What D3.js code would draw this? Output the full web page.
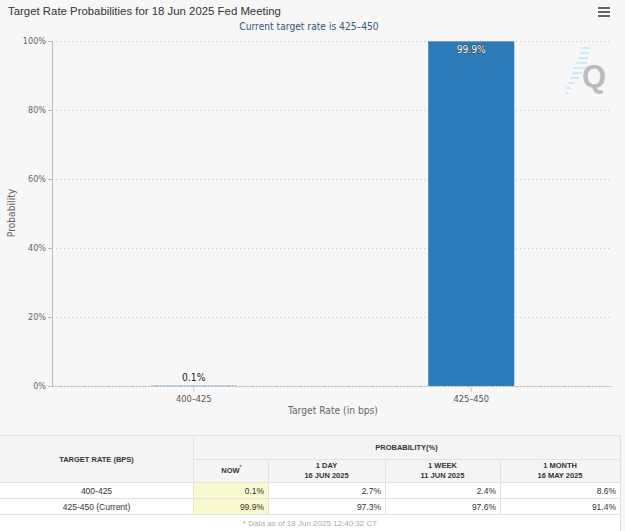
<!DOCTYPE html>
<html>
<head>
<meta charset="utf-8">
<script src="https://cdn.jsdelivr.net/npm/d3@7"></script>
<style>
  html, body { margin: 0; padding: 0; background: #f7f7f7; }
  svg { display: block; }
</style>
</head>
<body>
<svg width="625" height="531"></svg>
<script>
// chart data
const rates = ['400–425', '425–450'];
const probs = [0.1, 99.9];
const yTicks = [0, 20, 40, 60, 80, 100];

// table data
const tableRates = ['400-425', '425-450 (Current)'];
const colHeads = [['NOW'], ['1 DAY', '16 JUN 2025'], ['1 WEEK', '11 JUN 2025'], ['1 MONTH', '16 MAY 2025']];
const nowVals = [0.1, 99.9];
const dayVals = [2.7, 97.3];
const weekVals = [2.4, 97.6];
const monthVals = [8.6, 91.4];

const svg = d3.select('svg');
const width = +svg.attr('width');

const chartFont = '"Liberation Sans Narrow", "DejaVu Sans Condensed", Arial, sans-serif';
const tableFont = '"Liberation Sans", Arial, sans-serif';

svg.append('rect').attr('width', width).attr('height', 531).attr('fill', '#f7f7f7');

// title + subtitle
svg.append('text')
    .attr('x', 8).attr('y', 15)
    .attr('font-family', tableFont).attr('font-size', 11.4)
    .attr('fill', '#333')
    .text('Target Rate Probabilities for 18 Jun 2025 Fed Meeting');

svg.append('text')
    .attr('x', 309).attr('y', 30)
    .attr('text-anchor', 'middle')
    .attr('font-family', chartFont).attr('font-size', 10.2)
    .attr('fill', '#355877')
    .text('Current target rate is 425–450');

// menu icon
[8, 12, 16].forEach(y => {
    svg.append('line')
        .attr('x1', 598).attr('x2', 610).attr('y1', y).attr('y2', y)
        .attr('stroke', '#666').attr('stroke-width', 2);
});

const margin = { top: 41, left: 52, right: 13, bottom: 145 };
const innerWidth = width - margin.left - margin.right;
const innerHeight = 386 - margin.top;

const g = svg.append('g')
    .attr('transform', `translate(${margin.left}, ${margin.top})`);

const xScale = d3.scaleBand()
    .domain(rates)
    .range([3, innerWidth - 2])
    .paddingInner(0.69)
    .paddingOuter(0.345);

const yScale = d3.scaleLinear()
    .domain([0, 100])
    .range([innerHeight, 0]);

// grid lines
g.append('g')
    .selectAll('line')
    .data(yTicks)
    .enter()
        .append('line')
        .attr('x1', 0).attr('x2', innerWidth)
        .attr('y1', d => yScale(d) + 0.5).attr('y2', d => yScale(d) + 0.5)
        .attr('stroke', '#c8c8c8')
        .attr('stroke-dasharray', '1,3');

// y axis
const yAxis = d3.axisLeft(yScale)
    .tickValues(yTicks)
    .tickSize(4)
    .tickPadding(2)
    .tickFormat(d => d + '%');
const yAxisG = g.append('g').call(yAxis);
yAxisG.select('.domain').attr('stroke', '#bbb').attr('d', `M0.5,0V${innerHeight}`);
yAxisG.selectAll('.tick line').attr('stroke', '#bbb');
yAxisG.selectAll('.tick text')
    .attr('font-family', chartFont).attr('font-size', 9)
    .attr('fill', '#666');

// x axis
const xAxis = d3.axisBottom(xScale).tickSize(6).tickPadding(3);
const xAxisG = g.append('g')
    .attr('transform', `translate(0, ${innerHeight})`)
    .call(xAxis);
xAxisG.select('.domain').remove();
xAxisG.selectAll('.tick line').attr('stroke', '#ccc');
xAxisG.selectAll('.tick text')
    .attr('font-family', chartFont).attr('font-size', 9.2)
    .attr('fill', '#555');

// axis titles
g.append('text')
    .attr('x', 281).attr('y', innerHeight + 28)
    .attr('text-anchor', 'middle')
    .attr('font-family', chartFont).attr('font-size', 10.2)
    .attr('fill', '#666')
    .text('Target Rate (in bps)');

svg.append('text')
    .attr('transform', 'translate(15, 213) rotate(-90)')
    .attr('text-anchor', 'middle')
    .attr('font-family', chartFont).attr('font-size', 10.2)
    .attr('fill', '#666')
    .text('Probability');

// watermark
const wm = svg.append('g');
[[582, 48, 8], [580, 53, 9], [578, 58, 10], [576, 63, 11], [574, 68, 12], [572, 73, 10], [570, 78, 9], [568, 83, 7], [566, 88, 5], [565, 93, 3]]
    .forEach(([x, y, w]) => {
        wm.append('line')
            .attr('x1', x).attr('x2', x + w).attr('y1', y).attr('y2', y)
            .attr('stroke', '#c9ecf9').attr('stroke-width', 2);
    });
wm.append('text')
    .attr('x', 594).attr('y', 87)
    .attr('text-anchor', 'middle')
    .attr('font-family', tableFont).attr('font-weight', 'bold').attr('font-size', 31)
    .attr('fill', '#bcbcbc')
    .text('Q');

// baseline
g.append('line')
    .attr('x1', 0).attr('x2', innerWidth)
    .attr('y1', innerHeight + 0.5).attr('y2', innerHeight + 0.5)
    .attr('stroke', '#bbb')
    .attr('stroke-dasharray', '2,1');

// bars
const chartData = rates.map((r, i) => ({ rate: r, prob: probs[i] }));
g.selectAll('rect.bar')
    .data(chartData)
    .enter()
        .append('rect')
        .attr('class', 'bar')
        .attr('x', d => xScale(d.rate))
        .attr('y', d => yScale(d.prob))
        .attr('width', xScale.bandwidth())
        .attr('height', d => innerHeight - yScale(d.prob))
        .attr('fill', '#2b7bb9');

// data labels
g.selectAll('text.label')
    .data(chartData)
    .enter()
        .append('text')
        .attr('class', 'label')
        .attr('x', d => xScale(d.rate) + xScale.bandwidth() / 2)
        .attr('y', d => d.prob > 50 ? yScale(d.prob) + 12 : yScale(d.prob) - 5)
        .attr('text-anchor', 'middle')
        .attr('font-family', chartFont).attr('font-size', 10.2)
        .attr('fill', d => d.prob > 50 ? '#fff' : '#222')
        .attr('stroke', d => d.prob > 50 ? '#333' : 'none')
        .attr('stroke-width', 0.8)
        .attr('paint-order', 'stroke')
        .text(d => d.prob + '%');

// ---- table ----
const cols = [0, 193, 268, 385, 500, 620];
const rowY = { top: 435, mid: 459, head: 482, r1: 498, r2: 514, end: 531 };
const border = '#e2e2e2';
const t = svg.append('g');

t.append('rect').attr('x', 0).attr('y', rowY.top).attr('width', cols[5]).attr('height', rowY.end - rowY.top)
    .attr('fill', '#fff');
t.append('rect').attr('x', 0).attr('y', rowY.top).attr('width', cols[5]).attr('height', rowY.head - rowY.top)
    .attr('fill', '#f4f4f4');
t.append('rect').attr('x', cols[1]).attr('y', rowY.head).attr('width', cols[2] - cols[1]).attr('height', rowY.r2 - rowY.head)
    .attr('fill', '#f9f8cf');

const hline = (x1, x2, y) => t.append('line').attr('x1', x1).attr('x2', x2)
    .attr('y1', y + 0.5).attr('y2', y + 0.5).attr('stroke', border);
const vline = (x, y1, y2) => t.append('line').attr('x1', x + 0.5).attr('x2', x + 0.5)
    .attr('y1', y1).attr('y2', y2).attr('stroke', border);

hline(0, cols[5], rowY.top);
hline(cols[1], cols[5], rowY.mid);
hline(0, cols[5], rowY.head);
hline(0, cols[5], rowY.r1);
hline(0, cols[5], rowY.r2);
vline(cols[1], rowY.top, rowY.r2);
[2, 3, 4].forEach(i => vline(cols[i], rowY.mid, rowY.r2));
vline(cols[5], rowY.top, rowY.end);

const txt = (x, y, s, opts = {}) => t.append('text')
    .attr('x', x).attr('y', y)
    .attr('text-anchor', opts.anchor || 'middle')
    .attr('font-family', tableFont)
    .attr('font-size', opts.size || 9)
    .attr('font-weight', opts.bold ? 'bold' : 'normal')
    .attr('fill', opts.color || '#333')
    .text(s);

txt(cols[1] / 2, 462, 'TARGET RATE (BPS)', { bold: true, size: 7.5 });
txt((cols[1] + cols[5]) / 2, 450, 'PROBABILITY(%)', { bold: true, size: 7.5 });
colHeads.forEach((lines, i) => {
    const cx = (cols[i + 1] + cols[i + 2]) / 2;
    if (lines.length === 1) {
        txt(cx, 473, lines[0], { bold: true, size: 7.5 });
        txt(cx + 10, 469, '*', { size: 6 });
    } else {
        txt(cx, 468, lines[0], { bold: true, size: 7.5 });
        txt(cx, 478, lines[1], { bold: true, size: 7.5 });
    }
});

const valueCols = [nowVals, dayVals, weekVals, monthVals];
tableRates.forEach((r, ri) => {
    const y = ri === 0 ? 494 : 510;
    txt(cols[1] / 2, y, r, { size: 8.5 });
    valueCols.forEach((vals, ci) => {
        txt(cols[ci + 2] - 4, y, vals[ri].toFixed(1) + '%', { anchor: 'end', size: 8.5 });
    });
});

txt(cols[5] / 2, 526, '* Data as of 18 Jun 2025 12:40:32 CT', { size: 8, color: '#aaa' });
</script>
</body>
</html>
